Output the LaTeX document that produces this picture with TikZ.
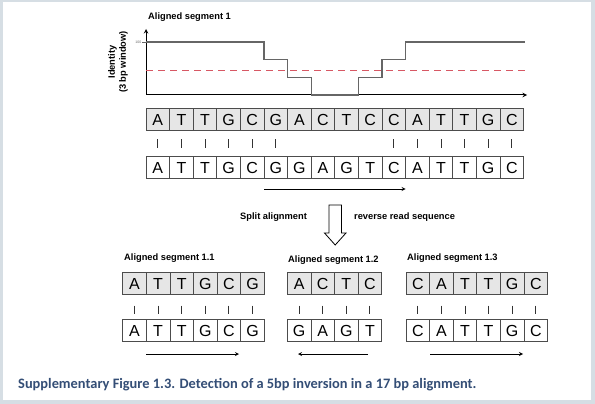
\documentclass[tikz,border=0pt]{standalone}
\usepackage{fontspec}
\setmainfont{Liberation Sans}
\newfontfamily\capfont{Carlito}
\usepackage{xcolor}
\usepackage{tikz}
\usetikzlibrary{positioning, calc}
\definecolor{framegray}{RGB}{214,222,228}
\definecolor{cellgray}{RGB}{230,230,230}
\definecolor{captionblue}{RGB}{52,78,118}
\definecolor{dashred}{RGB}{215,88,100}
\tikzstyle{cell} = [rectangle, draw=black!70, line width=0.8pt, minimum width=23.6pt, minimum height=22pt, inner sep=0pt, outer sep=0pt, text height=11.5pt, text depth=0pt, font=\fontsize{16}{16}\selectfont]
\tikzstyle{readcell} = [cell, fill=cellgray]
\tikzstyle{segtitle} = [inner sep=0pt, font=\fontsize{9.3}{11}\selectfont\bfseries]
\tikzstyle{arrow} = [line width=0.8pt,->,>=stealth]
\tikzstyle{match} = [draw=black!80, line width=1pt]

\begin{document}
\begin{tikzpicture}[x=1pt, y=-1pt]
  \fill[framegray] (0,0) rectangle (595,404);
  \fill[white] (2.5,2.5) rectangle (591,400);
  \useasboundingbox (0,0) rectangle (595,404);

  % identity plot over the full alignment
  \node (plottitle) [segtitle, anchor=west] at (148,17) {Aligned segment 1};
  \node (ylabel) [segtitle, rotate=90, align=center] at (118,62) {Identity\\(3 bp window)};
  \coordinate (origin) at (146,95);
  \coordinate (ytop) at (146,29);
  \coordinate (xend) at (527,95);
  \draw[arrow, line width=1pt] (origin) -- (ytop);
  \draw[arrow, line width=1pt] (origin) -- (xend);
  \draw[black!60, line width=0.5pt] (142,42) -- (146,42);
  \node (tick) [anchor=east, inner sep=0.5pt, text=black!60, font=\fontsize{3.5}{4}\selectfont] at (142,42) {100};
  \draw[dashred, line width=1pt, dash pattern=on 7pt off 5pt] (146,71) -- (525,71);
  \draw[black!60, line width=1.3pt] (146,42) -- (264,42) -- (264,59.7) -- (287.6,59.7) -- (287.6,77.3) -- (311.2,77.3) -- (311.2,95)
    -- (358.4,95) -- (358.4,77.3) -- (382,77.3) -- (382,59.7) -- (405.6,59.7) -- (405.6,42) -- (525,42);

  % full alignment
  \foreach \b [count=\i] in {A,T,T,G,C,G,A,C,T,C,C,A,T,T,G,C}
    \node (up\i) [readcell, anchor=north west] at ({146+(\i-1)*23.6},108.5) {\b};
  \foreach \b [count=\i] in {A,T,T,G,C,G,G,A,G,T,C,A,T,T,G,C}
    \node (lo\i) [cell, anchor=north west] at ({146+(\i-1)*23.6},156.5) {\b};
  \foreach \i in {1,...,6,11,12,...,16}
    \draw[match, shorten <=8.5pt, shorten >=8.5pt] (up\i) -- (lo\i);
  \coordinate (fwdA) at (264,189);
  \coordinate (fwdB) at (405.6,189);
  \draw[arrow] (fwdA) -- (fwdB);

  % split step
  \node (splitlabel) [segtitle, anchor=west] at (240,217) {Split alignment};
  \node (revlabel) [segtitle, anchor=west] at (354,217) {reverse read sequence};
  \draw[line width=0.8pt, fill=white] (329,205) -- (341.5,205) -- (341.5,233) -- (346,233) -- (335.2,245)
    -- (324.5,233) -- (329,233) -- cycle;

  % segment 1.1
  \node (titleA) [segtitle, anchor=west] at (124,258) {Aligned segment 1.1};
  \foreach \b [count=\i] in {A,T,T,G,C,G}
    \node (aup\i) [readcell, anchor=north west] at ({122.7+(\i-1)*23.6},272.5) {\b};
  \foreach \b [count=\i] in {A,T,T,G,C,G}
    \node (alo\i) [cell, anchor=north west] at ({122.7+(\i-1)*23.6},319.5) {\b};
  \foreach \i in {1,...,6}
    \draw[match, shorten <=11pt, shorten >=6pt] (aup\i) -- (alo\i);
  \coordinate (arA) at (146,354);
  \coordinate (arB) at (239,354);
  \draw[arrow] (arA) -- (arB);

  % segment 1.2
  \node (titleB) [segtitle, anchor=west] at (288,260) {Aligned segment 1.2};
  \foreach \b [count=\i] in {A,C,T,C}
    \node (bup\i) [readcell, anchor=north west] at ({287.3+(\i-1)*23.6},272.5) {\b};
  \foreach \b [count=\i] in {G,A,G,T}
    \node (blo\i) [cell, anchor=north west] at ({287.3+(\i-1)*23.6},319.5) {\b};
  \foreach \i in {1,...,4}
    \draw[match, shorten <=11pt, shorten >=6pt] (bup\i) -- (blo\i);
  \coordinate (brA) at (368,354);
  \coordinate (brB) at (298,354);
  \draw[arrow] (brA) -- (brB);

  % segment 1.3
  \node (titleC) [segtitle, anchor=west] at (407,258) {Aligned segment 1.3};
  \foreach \b [count=\i] in {C,A,T,T,G,C}
    \node (cup\i) [readcell, anchor=north west] at ({406+(\i-1)*23.6},272.5) {\b};
  \foreach \b [count=\i] in {C,A,T,T,G,C}
    \node (clo\i) [cell, anchor=north west] at ({406+(\i-1)*23.6},319.5) {\b};
  \foreach \i in {1,...,6}
    \draw[match, shorten <=11pt, shorten >=6pt] (cup\i) -- (clo\i);
  \coordinate (crA) at (430,354);
  \coordinate (crB) at (523,354);
  \draw[arrow] (crA) -- (crB);

  \node (caption) [anchor=west, inner sep=0pt, text=captionblue, font=\capfont\bfseries\fontsize{14.4}{16}\selectfont] at (18,385)
    {Supplementary Figure 1.3. Detection of a 5bp inversion in a 17 bp alignment.};
\end{tikzpicture}
\end{document}
